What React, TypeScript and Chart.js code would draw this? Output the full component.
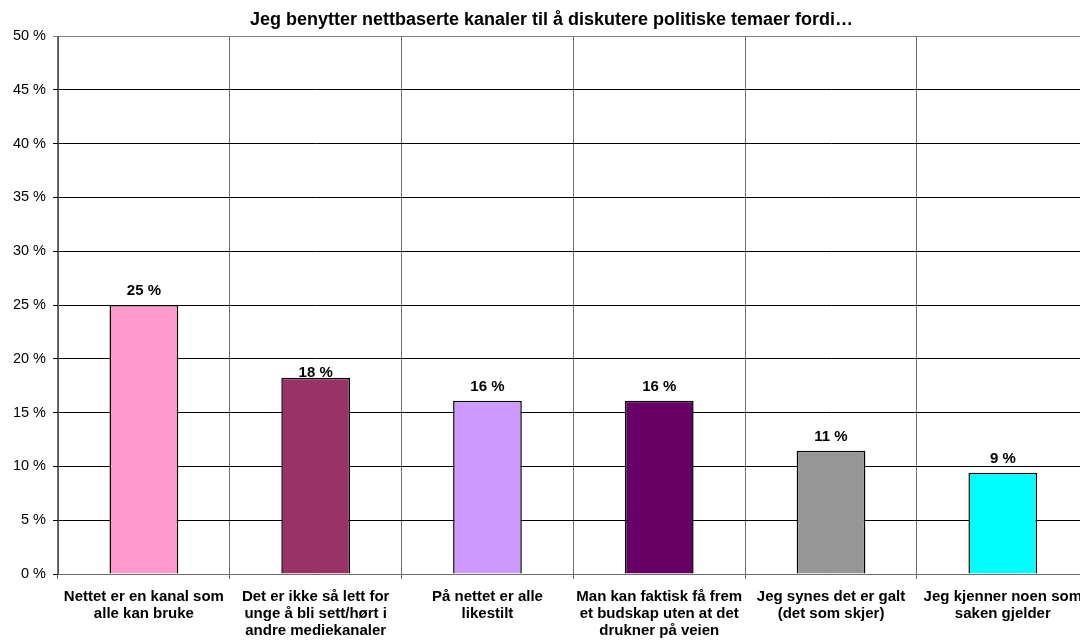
import React, { useEffect, useRef } from "react";
import { Chart, registerables } from "chart.js";

Chart.register(...registerables);

const chartTitle = "Jeg benytter nettbaserte kanaler til å diskutere politiske temaer fordi…";

const categories: string[][] = [
  ["Nettet er en kanal som", "alle kan bruke"],
  ["Det er ikke så lett for", "unge å bli sett/hørt i", "andre mediekanaler"],
  ["På nettet er alle", "likestilt"],
  ["Man kan faktisk få frem", "et budskap uten at det", "drukner på veien"],
  ["Jeg synes det er galt", "(det som skjer)"],
  ["Jeg kjenner noen som", "saken gjelder"],
];

const values: number[] = [25.0, 18.25, 16.1, 16.1, 11.46, 9.41];

const barColors: string[] = ["#FF99CC", "#993366", "#CC99FF", "#660066", "#969696", "#00FFFF"];

const yMin = 0;
const yMax = 50;
const yStep = 5;

const FONT = "'Liberation Sans', Arial, sans-serif";
const labelGaps: number[] = [10, 1, 10, 10, 10, 10];

const dataLabelPlugin = {
  id: "dataLabels",
  afterDatasetsDraw(chart: any) {
    const { ctx } = chart;
    const meta = chart.getDatasetMeta(0);
    ctx.save();
    ctx.font = `bold 15px ${FONT}`;
    ctx.fillStyle = "#000";
    ctx.textAlign = "center";
    ctx.textBaseline = "alphabetic";
    meta.data.forEach((bar: any, i: number) => {
      const v = values[i];
      ctx.fillText(`${Math.round(v)} %`, bar.x, bar.y - labelGaps[i]);
    });
    ctx.restore();
  },
};

export default function App() {
  const canvasRef = useRef<HTMLCanvasElement | null>(null);

  useEffect(() => {
    const canvas = canvasRef.current;
    if (!canvas) return;
    const chart = new Chart(canvas, {
      type: "bar",
      data: {
        labels: categories,
        datasets: [
          {
            data: values,
            backgroundColor: barColors,
            borderColor: "#000",
            borderWidth: 1.5,
            categoryPercentage: 1,
            barPercentage: 0.4,
          },
        ],
      },
      options: {
        responsive: false,
        animation: false,
        devicePixelRatio: 1,
        layout: { padding: { left: 12, right: 0, top: 0, bottom: 0 } },
        plugins: {
          legend: { display: false },
          tooltip: { enabled: false },
          title: {
            display: true,
            text: chartTitle,
            color: "#000",
            font: { family: FONT, size: 18, weight: "bold", lineHeight: 1.2 },
            padding: { top: 9.2, bottom: 5.2 },
          },
        },
        scales: {
          x: {
            offset: true,
            grid: {
              offset: true,
              color: "#6e6e6e",
              lineWidth: 1,
              drawTicks: true,
              tickLength: 5,
            },
            border: { display: true, color: "#6e6e6e", width: 1 },
            ticks: {
              color: "#000",
              font: { family: FONT, size: 15, weight: "bold", lineHeight: 1.15 },
              padding: 9,
              maxRotation: 0,
              minRotation: 0,
              autoSkip: false,
            },
            afterFit: (scale: any) => {
              scale.height = 67;
            },
          },
          y: {
            min: yMin,
            max: yMax,
            grid: {
              color: (c: any) => (c.tick && c.tick.value === yMax ? "#808080" : "#000"),
              lineWidth: 1,
              drawTicks: true,
              tickLength: 5,
            },
            border: { display: true, color: "#555", width: 1 },
            ticks: {
              stepSize: yStep,
              color: "#000",
              font: { family: FONT, size: 14.5 },
              padding: 7,
              callback: (v: any) => `${v} %`,
            },
            afterFit: (scale: any) => {
              scale.width = 46;
            },
          },
        },
      },
      plugins: [dataLabelPlugin],
    });
    return () => chart.destroy();
  }, []);

  return (
    <div
      style={{
        position: "fixed",
        left: 0,
        top: 0,
        width: 1080,
        height: 641,
        overflow: "hidden",
        background: "#fff",
      }}
    >
      <canvas ref={canvasRef} width={1091} height={641} style={{ display: "block" }} />
    </div>
  );
}
